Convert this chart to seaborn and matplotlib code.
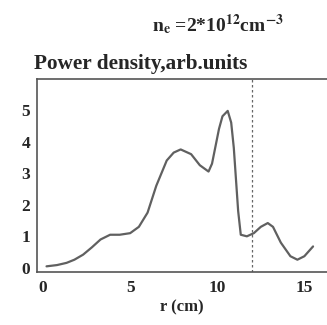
import matplotlib as mpl

mpl.use('Agg')
import pandas as pd
import matplotlib.pyplot as plt
import seaborn as sns

# radial profile of power density
r_cm = [0.2, 0.8, 1.35, 1.8, 2.3, 2.8, 3.3, 3.85, 4.4, 5.0, 5.5, 6.0, 6.5,
        7.1, 7.5, 7.9, 8.5, 9.0, 9.5, 9.7, 9.9, 10.1, 10.3, 10.6, 10.8,
        10.95, 11.1, 11.2, 11.35, 11.7, 12.1, 12.5, 12.9, 13.2, 13.65,
        14.2, 14.6, 15.0, 15.5]
power = [0.05, 0.09, 0.16, 0.26, 0.42, 0.65, 0.9, 1.05, 1.05, 1.1, 1.3,
         1.75, 2.6, 3.4, 3.65, 3.75, 3.6, 3.25, 3.05, 3.3, 3.85, 4.4, 4.8,
         4.97, 4.6, 3.8, 2.6, 1.8, 1.05, 1.0, 1.1, 1.3, 1.42, 1.3, 0.8,
         0.37, 0.26, 0.37, 0.68]
r_marker = 12.0
xticks = [0, 5, 10, 15]
yticks = [0, 1, 2, 3, 4, 5]

df = pd.DataFrame({'r': r_cm, 'p': power})

sns.set_style('white')
plt.rcParams['font.family'] = ['Liberation Serif', 'DejaVu Serif']
plt.rcParams['mathtext.fontset'] = 'stix'

fig = plt.figure(figsize=(3.27, 3.25), dpi=100)
ax = fig.add_axes([0.113, 0.163, 0.887, 0.594])
sns.lineplot(data=df, x='r', y='p', color='#606060', linewidth=1.6, ax=ax)
ax.axvline(r_marker, color='#666666', linestyle=(0, (2, 2)), linewidth=0.9)

ax.set_xlim(-0.35, 16.3)
ax.set_ylim(-0.13, 5.98)
ax.set_xticks(xticks)
ax.set_yticks(yticks)
ax.tick_params(direction='in', length=2, labelsize=12.5, pad=6, color='#444444')
ax.tick_params(axis='y', pad=5)
for lab in ax.get_xticklabels() + ax.get_yticklabels():
    lab.set_fontweight('bold')
for side in ['left', 'top', 'bottom']:
    ax.spines[side].set_color('#555555')
    ax.spines[side].set_linewidth(1.2)
ax.spines['right'].set_visible(False)

ax.set_xlabel('r (cm)', fontsize=12, fontweight='bold', labelpad=2)
ax.set_ylabel('')
fig.text(0.105, 0.803, 'Power density,arb.units', fontsize=15.3,
         fontweight='bold', ha='left', va='center')
fig.text(0.667, 0.925, r'n$_\mathbf{e}$ =2*10$^\mathbf{12}$cm$^\mathbf{-3}$',
         fontsize=14, fontweight='bold', ha='center', va='center')

plt.savefig('out.png', dpi=100)
